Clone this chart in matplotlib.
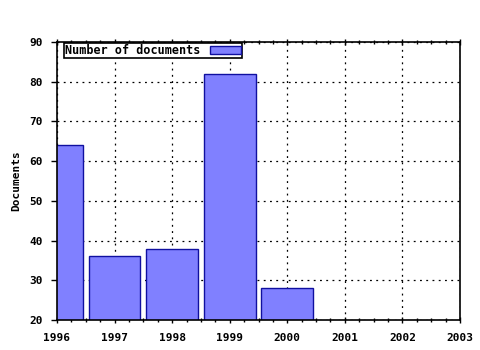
import matplotlib
matplotlib.use('Agg')
import matplotlib.pyplot as plt
from matplotlib.ticker import MultipleLocator

years = [1996, 1997, 1998, 1999, 2000]
documents = [64, 36, 38, 82, 28]
x_ticks = [1996, 1997, 1998, 1999, 2000, 2001, 2002, 2003]
y_ticks = [20, 30, 40, 50, 60, 70, 80, 90]

plt.rcParams['font.family'] = 'DejaVu Sans Mono'
plt.rcParams['font.weight'] = 'bold'
plt.rcParams['font.size'] = 8

fig = plt.figure(figsize=(4.8, 3.5), dpi=100)
ax = fig.add_axes([57 / 480, 30 / 350, 403 / 480, 278 / 350])

ax.bar(years, documents, width=0.9, color='#8080ff', edgecolor='#1010a0',
       linewidth=1, label='Number of documents', zorder=2)

ax.set_xlim(1996, 2003)
ax.set_ylim(20, 90)
ax.set_xticks(x_ticks)
ax.set_yticks(y_ticks)
ax.xaxis.set_minor_locator(MultipleLocator(0.25))
ax.grid(True, which='major', color='black', linestyle=(0, (1.5, 3.5)),
        linewidth=0.9, zorder=1)
ax.set_axisbelow(True)

ax.tick_params(axis='x', which='both', direction='inout', top=True,
               length=5, width=1, pad=7)
ax.tick_params(axis='x', which='minor', length=3)
ax.tick_params(axis='y', which='major', direction='out', length=4, width=1,
               pad=6)
for s in ax.spines.values():
    s.set_linewidth(1.2)

ax.set_ylabel('Documents', fontsize=8, fontweight='bold', labelpad=6)

leg = ax.legend(loc='upper left', bbox_to_anchor=(7 / 403, 1 - 1 / 278),
                markerfirst=False, fancybox=False,
                edgecolor='black', framealpha=1, borderpad=0.1,
                handlelength=2.6, handleheight=0.6, borderaxespad=0,
                prop={'family': 'DejaVu Sans Mono', 'weight': 'bold',
                      'size': 8.5})
leg.get_frame().set_linewidth(1.2)

fig.savefig('out.png', dpi=100)
